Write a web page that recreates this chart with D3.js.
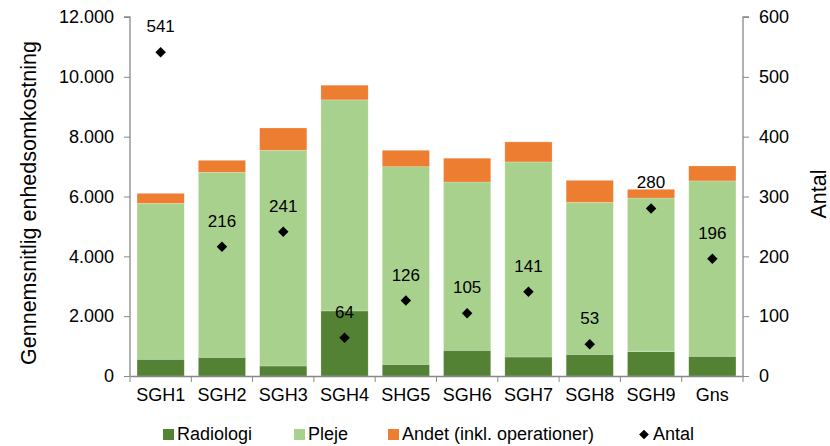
<!DOCTYPE html>
<html>
<head>
<meta charset="utf-8">
<script src="https://cdn.jsdelivr.net/npm/d3@7"></script>
<style>
  body { margin: 0; background: #fff; }
  svg { font-family: "Liberation Sans", Arial, sans-serif; }
</style>
</head>
<body>
<div id="chart"></div>
<script>
// Chart data
const categories = ["SGH1", "SGH2", "SGH3", "SGH4", "SHG5", "SGH6", "SGH7", "SGH8", "SGH9", "Gns"];
const radiologi = [560, 625, 335, 2175, 390, 860, 635, 725, 815, 660];
const pleje = [5210, 6185, 7210, 7055, 6605, 5625, 6520, 5080, 5135, 5860];
const andet = [335, 400, 745, 490, 550, 795, 670, 735, 290, 500];
const antal = [541, 216, 241, 64, 126, 105, 141, 53, 280, 196];
const leftTicks = [0, 2000, 4000, 6000, 8000, 10000, 12000];
const rightTicks = [0, 100, 200, 300, 400, 500, 600];

const width = 830;
const height = 446;
const margin = { top: 17, right: 87, bottom: 70, left: 130 };

const colors = { radiologi: "#548235", pleje: "#a9d18e", andet: "#ed7d31" };

const svg = d3.select("#chart")
  .append("svg")
  .attr("width", width)
  .attr("height", height);

const x = d3.scaleBand()
  .domain(categories)
  .range([margin.left, width - margin.right])
  .paddingInner(0.23)
  .paddingOuter(0.115);

const y = d3.scaleLinear().domain([0, 12000]).range([height - margin.bottom, margin.top]);
const y2 = d3.scaleLinear().domain([0, 600]).range([height - margin.bottom, margin.top]);

// stacked bars
const rows = categories.map((c, i) => ({ cat: c, radiologi: radiologi[i], pleje: pleje[i], andet: andet[i] }));
const stack = d3.stack().keys(["radiologi", "pleje", "andet"]);
const series = stack(rows);

svg.append("g")
  .selectAll("g")
  .data(series)
  .join("g")
  .attr("fill", (d) => colors[d.key])
  .selectAll("rect")
  .data((d) => d)
  .join("rect")
  .attr("x", (d) => x(d.data.cat))
  .attr("width", x.bandwidth())
  .attr("y", (d) => y(d[1]))
  .attr("height", (d) => y(d[0]) - y(d[1]))
  .attr("stroke", "#fff")
  .attr("stroke-opacity", 0.35)
  .attr("stroke-width", 0.6);

// axes
const axisColor = "#888";
const fontSize = 18;

const fmt = (v) => d3.format(",")(v).replace(/,/g, ".");

const leftAxis = svg.append("g")
  .attr("transform", `translate(${margin.left},0)`)
  .call(d3.axisLeft(y).tickValues(leftTicks).tickFormat(fmt).tickSize(6).tickPadding(10));

const rightAxis = svg.append("g")
  .attr("transform", `translate(${width - margin.right},0)`)
  .call(d3.axisRight(y2).tickValues(rightTicks).tickSize(6).tickPadding(10));

const bottomAxis = svg.append("g")
  .attr("transform", `translate(0,${height - margin.bottom})`)
  .call(d3.axisBottom(x).tickSize(0).tickPadding(12));

// category boundary ticks on the x axis
const step = x.step();
const bounds = d3.range(categories.length + 1).map((i) => margin.left + i * step);
bottomAxis.selectAll(".bound")
  .data(bounds)
  .join("line")
  .attr("class", "bound")
  .attr("x1", (d) => d)
  .attr("x2", (d) => d)
  .attr("y1", 0)
  .attr("y2", 6)
  .attr("stroke", axisColor);

[leftAxis, rightAxis, bottomAxis].forEach((g) => {
  g.selectAll(".domain").attr("stroke", axisColor).attr("stroke-width", 1.3);
  g.selectAll(".tick line").attr("stroke", axisColor);
  g.selectAll("text").attr("font-size", fontSize).attr("fill", "#000").attr("font-family", "Liberation Sans, Arial, sans-serif");
});
leftAxis.select(".domain").attr("d", `M-6,${y(12000)}H0V${y(0)}`);
rightAxis.select(".domain").attr("d", `M6,${y2(600)}H0V${y2(0)}`);

// Antal markers
const diamond = d3.symbol().type(d3.symbolDiamond2).size(70);
svg.append("g")
  .selectAll("path")
  .data(antal)
  .join("path")
  .attr("d", diamond)
  .attr("transform", (d, i) => `translate(${x(categories[i]) + x.bandwidth() / 2},${y2(d)})`)
  .attr("fill", "#000");

svg.append("g")
  .selectAll("text")
  .data(antal)
  .join("text")
  .attr("x", (d, i) => x(categories[i]) + x.bandwidth() / 2)
  .attr("y", (d) => y2(d) - 20)
  .attr("text-anchor", "middle")
  .attr("font-size", 17)
  .text((d) => d);

// axis titles
svg.append("text")
  .attr("transform", `translate(36,203) rotate(-90)`)
  .attr("text-anchor", "middle")
  .attr("font-size", 21.5)
  .text("Gennemsnitlig enhedsomkostning");

svg.append("text")
  .attr("transform", `translate(826,194) rotate(-90)`)
  .attr("text-anchor", "middle")
  .attr("font-size", 21.5)
  .text("Antal");

// legend
const legend = [
  { label: "Radiologi", color: colors.radiologi, x: 163, type: "rect" },
  { label: "Pleje", color: colors.pleje, x: 294, type: "rect" },
  { label: "Andet (inkl. operationer)", color: colors.andet, x: 388, type: "rect" },
  { label: "Antal", color: "#000", x: 638, type: "diamond" }
];
const legendY = 434;
const lg = svg.append("g").selectAll("g").data(legend).join("g")
  .attr("transform", (d) => `translate(${d.x},${legendY})`);
lg.filter((d) => d.type === "rect").append("rect")
  .attr("x", 0).attr("y", -5).attr("width", 11).attr("height", 11)
  .attr("fill", (d) => d.color);
lg.filter((d) => d.type === "diamond").append("path")
  .attr("d", d3.symbol().type(d3.symbolDiamond2).size(60))
  .attr("transform", "translate(6,0.5)")
  .attr("fill", "#000");
lg.append("text")
  .attr("x", (d) => d.type === "rect" ? 14 : 15)
  .attr("y", 0)
  .attr("dy", "0.35em")
  .attr("font-size", 18)
  .text((d) => d.label);
</script>
</body>
</html>
